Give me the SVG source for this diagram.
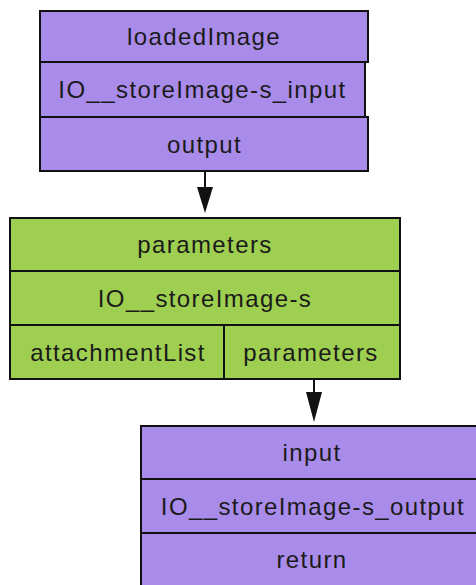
<svg xmlns="http://www.w3.org/2000/svg" width="476" height="585" viewBox="0 0 476 585">
  <style>
    .cell { stroke: #111; stroke-width: 2; }
    .purple { fill: #a98ce9; }
    .green { fill: #9fcf50; }
    .lbl { font-family: "Liberation Sans", Arial, sans-serif; font-size: 24px; letter-spacing: 1.4px; fill: #1a1a1a; text-anchor: middle; }
    .edge { stroke: #111; stroke-width: 2; fill: none; }
    .head { fill: #111; }
  </style>
  <rect width="476" height="585" fill="#ffffff"/>

  <!-- source record -->
  <g id="node-input-record">
    <rect class="cell purple" x="40" y="11" width="328" height="51"/>
    <rect class="cell purple" x="40" y="62" width="325" height="55"/>
    <rect class="cell purple" x="40" y="117" width="328" height="54"/>
    <text class="lbl" x="204" y="45">loadedImage</text>
    <text class="lbl" x="202.5" y="98">IO__storeImage-s_input</text>
    <text class="lbl" x="204.5" y="152.5">output</text>
  </g>

  <!-- processing step -->
  <g id="node-store-image">
    <rect class="cell green" x="10" y="218" width="390" height="53"/>
    <rect class="cell green" x="10" y="271" width="390" height="54"/>
    <rect class="cell green" x="10" y="325" width="214" height="54"/>
    <rect class="cell green" x="224" y="325" width="176" height="54"/>
    <text class="lbl" x="205" y="253">parameters</text>
    <text class="lbl" x="205" y="306.5">IO__storeImage-s</text>
    <text class="lbl" x="118" y="360.5">attachmentList</text>
    <text class="lbl" x="311" y="360.5">parameters</text>
  </g>

  <!-- result record -->
  <g id="node-output-record">
    <rect class="cell purple" x="141" y="426" width="346" height="53"/>
    <rect class="cell purple" x="141" y="479" width="346" height="54"/>
    <rect class="cell purple" x="141" y="533" width="346" height="60"/>
    <text class="lbl" x="312" y="461">input</text>
    <text class="lbl" x="313" y="514.5">IO__storeImage-s_output</text>
    <text class="lbl" x="312" y="567.5">return</text>
  </g>

  <!-- connectors -->
  <g id="edges">
    <line class="edge" x1="205" y1="171" x2="205" y2="190"/>
    <polygon class="head" points="197,187 213,187 205,213"/>
    <line class="edge" x1="314" y1="379" x2="314" y2="395"/>
    <polygon class="head" points="306,392 322,392 314,422"/>
  </g>
</svg>
